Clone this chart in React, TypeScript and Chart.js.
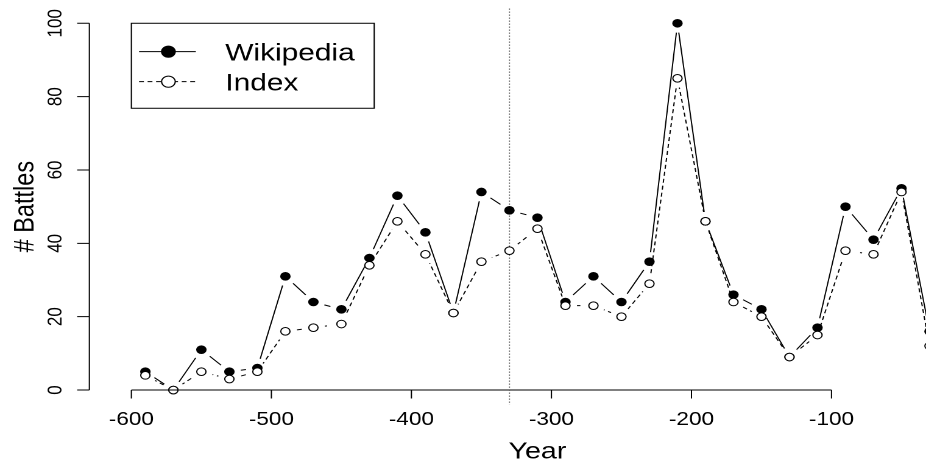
import React, { useEffect, useRef } from "react";
import { Chart, registerables } from "chart.js";

Chart.register(...registerables);

// ---------- data ----------
const YEARS = [
  -590, -570, -550, -530, -510, -490, -470, -450, -430, -410, -390, -370, -350, -330, -310,
  -290, -270, -250, -230, -210, -190, -170, -150, -130, -110, -90, -70, -50, -30,
];
const WIKIPEDIA = [
  5, 0, 11, 5, 6, 31, 24, 22, 36, 53, 43, 21, 54, 49, 47,
  24, 31, 24, 35, 100, 46, 26, 22, 9, 17, 50, 41, 55, 16,
];
const INDEX = [
  4, 0, 5, 3, 5, 16, 17, 18, 34, 46, 37, 21, 35, 38, 44,
  23, 23, 20, 29, 85, 46, 24, 20, 9, 15, 38, 37, 54, 12,
];
const X_TICKS = [-600, -500, -400, -300, -200, -100];
const Y_TICKS = [0, 20, 40, 60, 80, 100];
const MARKER_YEAR = -330;
const SERIES_NAMES = ["Wikipedia", "Index"];
const X_TITLE = "Year";
const Y_TITLE = "# Battles";

// ---------- layout / style ----------
const CSS_W = 926;
const CSS_H = 464;
const NATIVE_W = 760; // drawn narrower then stretched horizontally like the reference
const FONT = "'Liberation Sans', Arial, Helvetica, sans-serif";
const Y_AXIS_AT = -630; // x value where the y axis line sits
const LEGEND_AT = { x: -600, y: 100 };
const X_VIEW_MAX = -32.5;
const GAP = 9.5;
const POINT_R = 3.8;

const xSpan = YEARS[YEARS.length - 1] - YEARS[0];
const X_MIN = YEARS[0] - 0.04 * xSpan;
const allY = [...WIKIPEDIA, ...INDEX];
const yLo = Math.min(...allY);
const yHi = Math.max(...allY);
const Y_MIN = yLo - 0.04 * (yHi - yLo);
const Y_MAX = yHi + 0.04 * (yHi - yLo);

const toXY = (vals: number[]) => YEARS.map((x, i) => ({ x, y: vals[i] }));

const gapPlugin = {
  id: "typeBGaps",
  beforeDatasetDraw(chart: any, args: any) {
    const ds = chart.data.datasets[args.index];
    if (!ds.gapLine) return;
    const ctx = chart.ctx;
    ctx.save();
    ctx.beginPath();
    ctx.rect(-10, -10, chart.width + 20, chart.height + 20);
    for (const el of args.meta.data) {
      ctx.moveTo(el.x + GAP, el.y);
      ctx.arc(el.x, el.y, GAP, 0, Math.PI * 2);
    }
    ctx.clip("evenodd");
  },
  afterDatasetDraw(chart: any, args: any) {
    const ds = chart.data.datasets[args.index];
    if (!ds.gapLine) return;
    chart.ctx.restore();
  },
};

const rPlugin = {
  id: "rAxes",
  beforeDatasetsDraw(chart: any) {
    const { ctx, chartArea } = chart;
    const x = chart.scales.x.getPixelForValue(MARKER_YEAR);
    ctx.save();
    ctx.strokeStyle = "#333";
    ctx.lineWidth = 1;
    ctx.setLineDash([1, 2]);
    ctx.beginPath();
    ctx.moveTo(x, chartArea.top);
    ctx.lineTo(x, chartArea.bottom);
    ctx.stroke();
    ctx.restore();
  },
  afterDatasetsDraw(chart: any) {
    const { ctx, chartArea } = chart;
    const sx = chart.scales.x;
    const sy = chart.scales.y;
    const px = (v: number) => sx.getPixelForValue(v);
    const py = (v: number) => sy.getPixelForValue(v);
    ctx.save();
    ctx.strokeStyle = "#000";
    ctx.fillStyle = "#000";
    ctx.lineWidth = 1;
    ctx.setLineDash([]);

    // x axis
    const y0 = py(0);
    ctx.beginPath();
    ctx.moveTo(px(X_TICKS[0]), y0);
    ctx.lineTo(px(X_TICKS[X_TICKS.length - 1]), y0);
    for (const t of X_TICKS) {
      ctx.moveTo(px(t), y0);
      ctx.lineTo(px(t), y0 + 8.5);
    }
    ctx.stroke();
    ctx.font = `18.5px ${FONT}`;
    ctx.textAlign = "center";
    ctx.textBaseline = "alphabetic";
    for (const t of X_TICKS) {
      ctx.fillText(String(t), px(t), y0 + 35);
    }

    // y axis
    const xa = px(Y_AXIS_AT);
    ctx.beginPath();
    ctx.moveTo(xa, py(Y_TICKS[0]));
    ctx.lineTo(xa, py(Y_TICKS[Y_TICKS.length - 1]));
    for (const t of Y_TICKS) {
      ctx.moveTo(xa, py(t));
      ctx.lineTo(xa - 10, py(t));
    }
    ctx.stroke();
    ctx.font = `17px ${FONT}`;
    for (const t of Y_TICKS) {
      ctx.save();
      ctx.translate(xa - 22.7, py(t));
      ctx.rotate(-Math.PI / 2);
      ctx.fillText(String(t), 0, 0);
      ctx.restore();
    }

    // titles
    ctx.font = `23.5px ${FONT}`;
    const midYear = (YEARS[0] + YEARS[YEARS.length - 1]) / 2;
    ctx.fillText(X_TITLE, px(midYear), y0 + 68.3);
    ctx.save();
    ctx.translate(27.3, (chartArea.top + chartArea.bottom) / 2);
    ctx.rotate(-Math.PI / 2);
    ctx.fillText(Y_TITLE, 0, 0);
    ctx.restore();

    // legend
    const lf = 24.5;
    ctx.font = `${lf}px ${FONT}`;
    const left = px(LEGEND_AT.x);
    const top = py(LEGEND_AT.y);
    const textX = left + 77.1;
    const maxW = Math.max(...SERIES_NAMES.map((s) => ctx.measureText(s).width));
    const boxW = 77.1 + maxW + 16;
    const boxH = 85;
    ctx.fillStyle = "#fff";
    ctx.fillRect(left, top, boxW, boxH);
    ctx.strokeStyle = "#000";
    ctx.strokeRect(left, top, boxW, boxH);
    const rows = [top + 28.4, top + 58.4];
    SERIES_NAMES.forEach((name, i) => {
      const ry = rows[i];
      ctx.beginPath();
      ctx.setLineDash(i === 0 ? [] : [4, 3]);
      ctx.moveTo(left + 6.3, ry);
      ctx.lineTo(left + 52.9, ry);
      ctx.stroke();
      ctx.setLineDash([]);
      ctx.beginPath();
      ctx.arc(left + 30.4, ry, 5.6, 0, Math.PI * 2);
      ctx.fillStyle = i === 0 ? "#000" : "#fff";
      ctx.fill();
      ctx.stroke();
      ctx.fillStyle = "#000";
      ctx.textAlign = "left";
      ctx.fillText(name, textX, ry + 0.358 * lf);
    });
    ctx.restore();
  },
};

export default function App() {
  const ref = useRef<HTMLCanvasElement | null>(null);
  useEffect(() => {
    if (!ref.current) return;
    const common = {
      parsing: true,
      clip: false as any,
      tension: 0,
    };
    const chart = new Chart(ref.current, {
      type: "line",
      data: {
        datasets: [
          {
            ...common,
            label: SERIES_NAMES[1] + " points",
            data: toXY(INDEX),
            showLine: false,
            pointRadius: POINT_R,
            pointBackgroundColor: "#fff",
            pointBorderColor: "#000",
            pointBorderWidth: 1,
            order: 1,
          },
          {
            ...common,
            label: SERIES_NAMES[1],
            data: toXY(INDEX),
            gapLine: true,
            borderColor: "#000",
            borderWidth: 1,
            borderDash: [4, 3],
            pointRadius: 0,
            order: 2,
          } as any,
          {
            ...common,
            label: SERIES_NAMES[0] + " points",
            data: toXY(WIKIPEDIA),
            showLine: false,
            pointRadius: POINT_R,
            pointBackgroundColor: "#000",
            pointBorderColor: "#000",
            pointBorderWidth: 1,
            order: 3,
          },
          {
            ...common,
            label: SERIES_NAMES[0],
            data: toXY(WIKIPEDIA),
            gapLine: true,
            borderColor: "#000",
            borderWidth: 1,
            pointRadius: 0,
            order: 4,
          } as any,
        ],
      },
      options: {
        animation: false,
        responsive: false,
        devicePixelRatio: 2,
        events: [],
        layout: { autoPadding: false, padding: { left: 93.56, right: 0, top: 8.6, bottom: 59.3 } },
        scales: {
          x: { type: "linear", min: X_MIN, max: X_VIEW_MAX, display: false },
          y: { type: "linear", min: Y_MIN, max: Y_MAX, display: false },
        },
        plugins: { legend: { display: false }, tooltip: { enabled: false } },
      },
      plugins: [gapPlugin, rPlugin],
    });
    return () => chart.destroy();
  }, []);
  return (
    <div style={{ position: "absolute", left: 0, top: 0, width: CSS_W, height: CSS_H, background: "#fff" }}>
      <canvas
        ref={ref}
        width={NATIVE_W}
        height={CSS_H}
        style={{ width: `${CSS_W}px`, height: `${CSS_H}px`, display: "block" }}
      />
    </div>
  );
}
